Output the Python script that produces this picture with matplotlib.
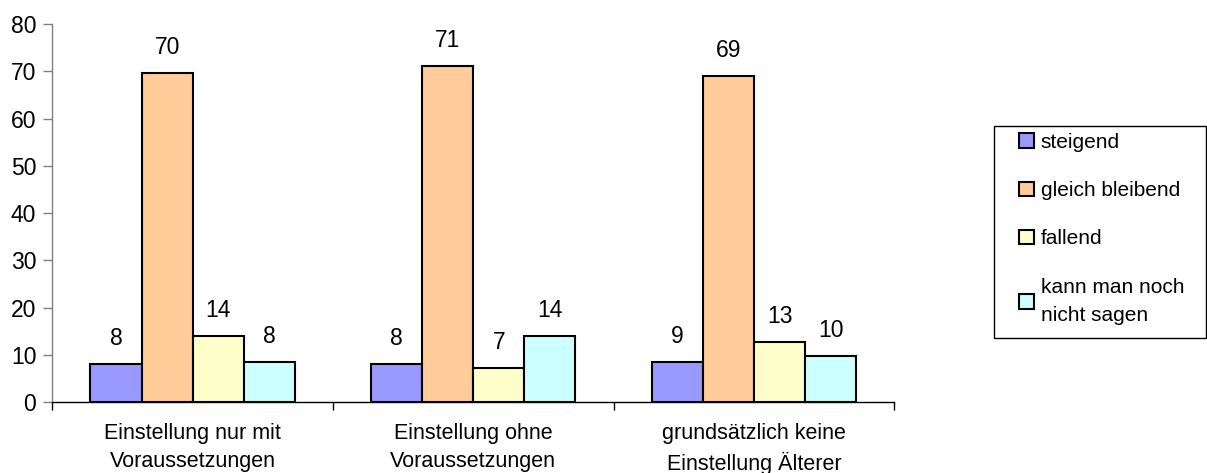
import matplotlib
matplotlib.use("Agg")
import matplotlib.pyplot as plt
import matplotlib.patches as mpatches
import numpy as np

categories = ["Einstellung nur mit\nVoraussetzungen",
              "Einstellung ohne\nVoraussetzungen",
              "grundsätzlich keine\nEinstellung Älterer"]
series_names = ["steigend", "gleich bleibend", "fallend", "kann man noch\nnicht sagen"]
steigend = [8.0, 8.0, 8.5]
gleich_bleibend = [69.6, 71.1, 68.9]
fallend = [14.0, 7.2, 12.7]
kann_man_noch_nicht_sagen = [8.5, 14.0, 9.7]
labels = [[8, 8, 9], [70, 71, 69], [14, 7, 13], [8, 14, 10]]
yticks = [0, 10, 20, 30, 40, 50, 60, 70, 80]

values = [steigend, gleich_bleibend, fallend, kann_man_noch_nicht_sagen]
colors = ["#9999FF", "#FFCC99", "#FFFFCC", "#CCFFFF"]

plt.rcParams['font.family'] = ['Liberation Sans', 'DejaVu Sans']
plt.rcParams['font.size'] = 15

W, H = 1207, 473
fig = plt.figure(figsize=(W / 100, H / 100), dpi=100)
ax = fig.add_axes([52.3 / W, 1 - 402.3 / H, 842 / W, 378.3 / H])

n = len(values)
bw = 0.182
x = np.arange(len(categories))
for i, (vals, c, name) in enumerate(zip(values, colors, series_names)):
    pos = x + (i - (n - 1) / 2) * bw
    ax.bar(pos, vals, width=bw, color=c, edgecolor="black", linewidth=1.5, label=name)
    for p, v, lab in zip(pos, vals, labels[i]):
        ax.text(p, v + 3.0, str(lab), ha="center", va="bottom", fontsize=16.5)

ax.set_xlim(-0.5, len(categories) - 0.5)
ax.set_ylim(0, 80)
ax.set_yticks(yticks)
ax.tick_params(axis='y', labelsize=16.5)
ax.set_xticks(x)
ax.set_xticklabels(categories, linespacing=1.45, fontsize=15.5)
ax.set_xticks(np.arange(len(categories) + 1) - 0.5, minor=True)
ax.tick_params(axis='x', which='major', length=0, pad=15)
ax.tick_params(axis='x', which='minor', length=6, width=1, color='black', direction='out')
ax.tick_params(axis='y', length=6.5, width=1, color='#808080', pad=5)
for s in ["top", "right"]:
    ax.spines[s].set_visible(False)
ax.spines["left"].set_color("#808080")
ax.spines["left"].set_linewidth(1)
ax.spines["bottom"].set_color("black")
ax.spines["bottom"].set_linewidth(1)

# legend frame drawn separately
frame = mpatches.Rectangle((994 / W, 1 - 337.7 / H), (1206 - 994) / W, (337.7 - 125.7) / H,
                           transform=fig.transFigure, fill=False, edgecolor="black",
                           linewidth=1)
fig.patches.append(frame)

leg = fig.legend(loc="upper left", bbox_to_anchor=(1019 / W, 1 - 133 / H),
                 frameon=False, handlelength=0.7, handleheight=0.7, handletextpad=0.35,
                 labelspacing=1.4, borderpad=0, borderaxespad=0, fontsize=15)
for t in leg.get_texts():
    t.set_linespacing(1.6)

fig.savefig("out.png", dpi=100, facecolor="white")
